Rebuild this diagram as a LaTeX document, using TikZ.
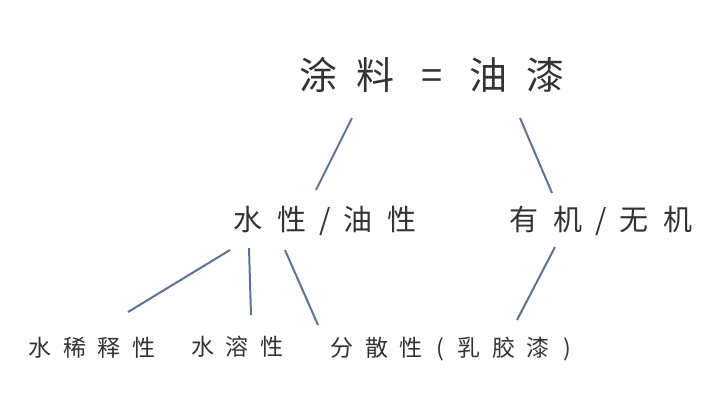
\documentclass[tikz,border=0pt]{standalone}
\usepackage{fontspec}
\setmainfont{Noto Sans CJK SC}
\definecolor{lc}{RGB}{95,115,145}
\begin{document}
\begin{tikzpicture}[x=1pt,y=-1pt,
  txt/.style={text=black!80,inner sep=0pt,anchor=center},
  ln/.style={draw=lc,line width=2pt}]
\useasboundingbox (0,0) rectangle (720,405);
\node[txt,font=\fontsize{38}{40}\selectfont] (t) at (432,75) {涂\hspace{0.5em}料\hspace{0.7em}=\hspace{0.7em}油\hspace{0.5em}漆};
\node[txt,font=\fontsize{29}{32}\selectfont] (a) at (325,221) {水\hspace{0.5em}性\hspace{0.45em}/\hspace{0.45em}油\hspace{0.5em}性};
\node[txt,font=\fontsize{29}{32}\selectfont] (b) at (601,221) {有\hspace{0.5em}机\hspace{0.45em}/\hspace{0.45em}无\hspace{0.5em}机};
\node[txt,font=\fontsize{23}{26}\selectfont] (c1) at (92,348) {水\hspace{0.5em}稀\hspace{0.5em}释\hspace{0.5em}性};
\node[txt,font=\fontsize{23}{26}\selectfont] (c2) at (237,347) {水\hspace{0.5em}溶\hspace{0.5em}性};
\node[txt,font=\fontsize{23}{26}\selectfont] (c3) at (451,349) {分\hspace{0.5em}散\hspace{0.5em}性\hspace{0.6em}(\hspace{0.6em}乳\hspace{0.5em}胶\hspace{0.5em}漆\hspace{0.6em})};
\coordinate (p1) at (352,118); \coordinate (p2) at (316,190);
\coordinate (p3) at (520,118); \coordinate (p4) at (552,193);
\draw[ln] (p1) -- (p2);
\draw[ln] (p3) -- (p4);
\draw[ln] (230,250) -- (128,312);
\draw[ln] (249,248) -- (251,315);
\draw[ln] (285,250) -- (318,325);
\draw[ln] (555,247) -- (517,320);
\end{tikzpicture}
\end{document}
